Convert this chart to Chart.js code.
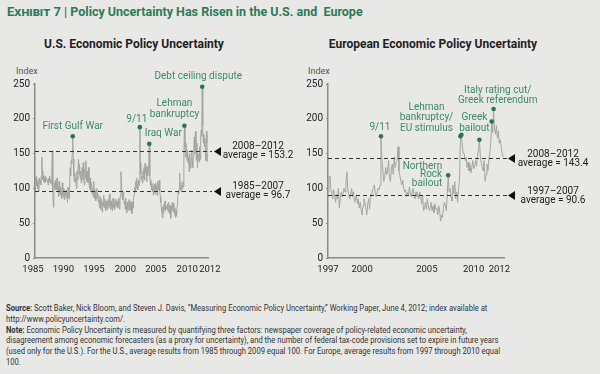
<!DOCTYPE html>
<html>
<head>
<meta charset="utf-8">
<script src="https://cdn.jsdelivr.net/npm/chart.js@4.4.1/dist/chart.umd.min.js"></script>
<style>
  body { margin: 0; width: 600px; height: 374px; overflow: hidden; position: relative;
         background: #e8e8e6; font-family: Roboto, sans-serif; }
  #title { position: absolute; left: 7px; top: 4px; font-size: 12.5px; font-weight: bold;
           color: #2c7a58; white-space: nowrap; }
  #title .sc { font-variant: small-caps; font-size: 13px; }
  .sub { position: absolute; top: 37px; font-size: 12px; font-weight: bold; color: #222;
         white-space: nowrap; transform: translateX(-50%); }
  .idx { position: absolute; top: 66px; font-size: 9px; color: #555; }
  canvas { position: absolute; }
  #foot { position: absolute; left: 6px; top: 303px; font-size: 9px; line-height: 10.8px;
          color: #333; white-space: nowrap; transform-origin: 0 0; }
  #foot b { font-weight: bold; }
</style>
</head>
<body>

<div id="title"><span class="sc">Exhibit 7</span> | Policy Uncertainty Has Risen in the U.S. and &nbsp;Europe</div>

<div class="sub" style="left:134px">U.S. Economic Policy Uncertainty</div>
<div class="sub" style="left:433px">European Economic Policy Uncertainty</div>
<div class="idx" style="left:16px">Index</div>
<div class="idx" style="left:308px">Index</div>

<canvas id="usChart" width="300" height="220" style="left:0;top:60px"></canvas>
<canvas id="euChart" width="300" height="220" style="left:300px;top:60px"></canvas>

<div id="foot">
  <div class="ln"><b>Source:</b> Scott Baker, Nick Bloom, and Steven J. Davis, “Measuring Economic Policy Uncertainty,” Working Paper, June 4, 2012; index available at</div>
  <div class="ln">http://www.policyuncertainty.com/.</div>
  <div class="ln"><b>Note:</b> Economic Policy Uncertainty is measured by quantifying three factors: newspaper coverage of policy-related economic uncertainty,</div>
  <div class="ln" id="longest">disagreement among economic forecasters (as a proxy for uncertainty), and the number of federal tax-code provisions set to expire in future years</div>
  <div class="ln">(used only for the U.S.). For the U.S., average results from 1985 through 2009 equal 100. For Europe, average results from 1997 through 2010 equal</div>
  <div class="ln">100.</div>
</div>

<script>
// ---- data (monthly index values) ----
var usStart = 1985;
var usValues = [
  93, 110, 117, 104, 112, 100, 108, 96, 115, 108, 112, 105,    // 1985
  118, 145, 125, 112, 118, 110, 115, 108, 118, 112, 115, 110,  // 1986
  112, 105, 115, 110, 118, 108, 112, 106, 120, 154, 98, 73,    // 1987
  95, 108, 100, 112, 98, 105, 115, 95, 102, 88, 110, 96,       // 1988
  90, 102, 95, 85, 108, 92, 88, 100, 84, 95, 90, 98,           // 1989
  86, 94, 80, 102, 90, 85, 98, 130, 118, 140, 135, 150,        // 1990
  175, 142, 118, 110, 122, 108, 115, 100, 125, 112, 130, 142,  // 1991
  120, 135, 115, 125, 108, 118, 130, 112, 137, 120, 105, 128,  // 1992
  115, 140, 118, 110, 125, 108, 130, 112, 100, 115, 95, 108,   // 1993
  105, 92, 100, 88, 110, 95, 85, 98, 82, 90, 100, 86,          // 1994
  92, 80, 85, 72, 88, 70, 78, 84, 66, 80, 75, 90,              // 1995
  72, 85, 78, 68, 82, 75, 70, 84, 72, 78, 92, 76,              // 1996
  70, 82, 75, 68, 80, 86, 72, 78, 70, 84, 76, 82,              // 1997
  74, 80, 72, 86, 78, 70, 82, 90, 124, 105, 92, 84,            // 1998
  95, 88, 78, 82, 70, 86, 74, 65, 80, 72, 68, 84,              // 1999
  75, 70, 82, 68, 78, 64, 80, 72, 86, 92, 102, 95,             // 2000
  110, 100, 115, 105, 98, 112, 104, 108, 188, 136, 120, 112,   // 2001
  118, 108, 125, 115, 130, 112, 136, 122, 128, 110, 132, 118,  // 2002
  125, 140, 164, 118, 105, 112, 98, 108, 95, 102, 90, 106,     // 2003
  100, 92, 108, 96, 104, 90, 110, 98, 105, 112, 96, 88,        // 2004
  80, 72, 66, 58, 74, 64, 78, 70, 82, 68, 75, 72,              // 2005
  70, 78, 66, 80, 72, 64, 76, 57, 74, 68, 80, 72,              // 2006
  66, 78, 62, 72, 58, 68, 60, 75, 82, 96, 92, 100,             // 2007
  122, 98, 108, 95, 104, 100, 110, 102, 150, 190, 160, 145,    // 2008
  165, 150, 140, 155, 136, 145, 124, 150, 138, 129, 142, 155,  // 2009
  138, 130, 145, 160, 174, 150, 182, 155, 140, 165, 129, 148,  // 2010
  150, 138, 160, 142, 170, 184, 175, 246, 190, 165, 178, 160,  // 2011
  172, 150, 140, 182, 165, 138                                 // 2012
];
var usTicks = [1985, 1990, 1995, 2000, 2005, 2010, 2012];
var usAverages = [153.2, 96.7];
var usAvgLabels = [['2008–2012', 'average = 153.2'], ['1985–2007', 'average = 96.7']];
var usEvents = [
  { lines: ['First Gulf War'], months: [[1991, 1]] },
  { lines: ['9/11'], months: [[2001, 9]] },
  { lines: ['Iraq War'], months: [[2003, 3]] },
  { lines: ['Lehman', 'bankruptcy'], months: [[2008, 10]] },
  { lines: ['Debt ceiling dispute'], months: [[2011, 8]] }
];

var euStart = 1997;
var euValues = [
  95, 108, 118, 100, 92, 85, 98, 88, 80, 92, 85, 100,          // 1997
  72, 85, 95, 88, 92, 100, 95, 110, 124, 98, 90, 85,           // 1998
  92, 100, 88, 95, 80, 85, 90, 78, 85, 72, 80, 70,             // 1999
  62, 75, 85, 80, 72, 62, 78, 85, 70, 92, 88, 98,              // 2000
  100, 105, 92, 88, 95, 100, 98, 105, 175, 140, 125, 110,      // 2001
  118, 130, 120, 125, 140, 115, 110, 128, 135, 120, 145, 130,  // 2002
  138, 140, 160, 125, 118, 110, 105, 112, 100, 95, 98, 88,     // 2003
  95, 90, 102, 92, 88, 95, 100, 90, 85, 95, 88, 92,            // 2004
  85, 95, 88, 78, 90, 68, 72, 80, 70, 85, 75, 68,              // 2005
  72, 80, 68, 75, 65, 78, 70, 72, 62, 75, 68, 53,              // 2006
  62, 58, 72, 80, 75, 68, 90, 119, 95, 100, 88, 82,            // 2007
  105, 92, 110, 85, 95, 80, 100, 112, 175, 177, 160, 150,      // 2008
  150, 140, 145, 130, 138, 125, 135, 122, 130, 140, 128, 132,  // 2009
  140, 132, 148, 155, 170, 145, 138, 130, 125, 140, 110, 120,  // 2010
  135, 125, 142, 150, 165, 196, 180, 214, 185, 178, 190, 172,  // 2011
  182, 165, 170, 160, 150, 145                                 // 2012
];
var euTicks = [1997, 2000, 2005, 2010, 2012];
var euAverages = [143.4, 90.6];
var euAvgLabels = [['2008–2012', 'average = 143.4'], ['1997–2007', 'average = 90.6']];
var euEvents = [
  { lines: ['9/11'], months: [[2001, 9]] },
  { lines: ['Lehman', 'bankruptcy/', 'EU stimulus'], months: [[2008, 9], [2008, 10]] },
  { lines: ['Greek', 'bailout'], months: [[2010, 5]] },
  { lines: ['Italy rating cut/', 'Greek referendum'], months: [[2011, 6], [2011, 8]] },
  { lines: ['Northern', 'Rock', 'bailout'], months: [[2007, 8]] }
];

// label placement relative to first dot (pixels)
var usPlace = [
  { dx: 0, dy: -10, lh: 11 },
  { dx: -3, dy: -8, lh: 11 },
  { dx: 14, dy: -10, lh: 11 },
  { dx: -10, dy: -22, lh: 11 },
  { dx: -4, dy: -10, lh: 11 }
];
var euPlace = [
  { dx: -1, dy: -9, lh: 11 },
  { dx: -34, dy: -29, lh: 10.5 },
  { dx: -5, dy: -22, lh: 11 },
  { dx: 6, dy: -31, lh: 9.5 },
  { dx: -6, dy: -9, lh: 8.8, align: 'right' }
];
// small horizontal nudges of the year labels, as set in the exhibit
var usTickNudge = { 1985: -2, 1990: -3, 1995: -4, 2000: -4, 2005: -5, 2010: -5, 2012: 5 };
var euTickNudge = { 2005: 8, 2010: -2, 2012: 1 };

var GREEN_TXT = '#3d8a67';
var GREEN_DOT = '#2b7355';

Chart.defaults.font.family = 'Roboto, sans-serif';

function toPoints(start, values) {
  return values.map(function (v, i) { return { x: start + i / 12, y: v }; });
}

var extras = {
  id: 'extras',
  afterDatasetsDraw: function (chart, args, o) {
    var ctx = chart.ctx, x = chart.scales.x, y = chart.scales.y;
    ctx.save();
    // year labels
    ctx.fillStyle = '#222';
    ctx.font = '9.5px Roboto, sans-serif';
    ctx.textAlign = 'center';
    ctx.textBaseline = 'middle';
    o.ticks.forEach(function (v) {
      ctx.fillText(String(v), x.getPixelForValue(v) + (o.nudge[v] || 0), x.top + 12);
    });
    // average lines, arrows, labels
    o.averages.forEach(function (a, k) {
      var py = Math.round(y.getPixelForValue(a)) + 0.5;
      ctx.setLineDash([4, 3]);
      ctx.strokeStyle = '#333';
      ctx.lineWidth = 1;
      ctx.beginPath();
      ctx.moveTo(x.left, py);
      ctx.lineTo(x.right + o.dashExtra, py);
      ctx.stroke();
      ctx.setLineDash([]);
      var tx = x.right + o.triX;
      ctx.fillStyle = '#111';
      ctx.beginPath();
      ctx.moveTo(tx, py);
      ctx.lineTo(tx + 7, py - 4.5);
      ctx.lineTo(tx + 7, py + 4.5);
      ctx.closePath();
      ctx.fill();
      ctx.fillStyle = '#222';
      ctx.font = '10px Roboto, sans-serif';
      ctx.textAlign = 'center';
      ctx.textBaseline = 'middle';
      ctx.fillText(o.avgLabels[k][0], x.right + o.labelX, py + o.labelDy[0]);
      ctx.fillText(o.avgLabels[k][1], x.right + o.labelX, py + o.labelDy[1]);
    });
    // events
    o.events.forEach(function (ev, k) {
      var pts = ev.months.map(function (m) {
        var idx = (m[0] - o.start) * 12 + (m[1] - 1);
        return { px: x.getPixelForValue(o.start + idx / 12), py: y.getPixelForValue(o.values[idx]) };
      });
      ctx.fillStyle = GREEN_DOT;
      pts.forEach(function (p) {
        ctx.beginPath();
        ctx.arc(p.px, p.py, 2.3, 0, Math.PI * 2);
        ctx.fill();
      });
      var pl = o.place[k];
      ctx.fillStyle = GREEN_TXT;
      ctx.font = '10px Roboto, sans-serif';
      ctx.textAlign = pl.align || 'center';
      ctx.textBaseline = 'middle';
      ev.lines.forEach(function (t, j) {
        ctx.fillText(t, pts[0].px + pl.dx, pts[0].py + pl.dy + j * pl.lh);
      });
    });
    ctx.restore();
  }
};

function makeChart(id, start, values, ticks, yWidth, padRight, extraOpts) {
  return new Chart(document.getElementById(id), {
    type: 'line',
    data: {
      datasets: [{
        data: toPoints(start, values),
        borderColor: '#a4a4a4',
        borderWidth: 1,
        pointRadius: 0,
        tension: 0
      }]
    },
    options: {
      responsive: false,
      animation: false,
      devicePixelRatio: 1,
      layout: { padding: { top: 24, right: padRight, left: 0, bottom: 0 } },
      plugins: { legend: { display: false }, tooltip: { enabled: false }, extras: extraOpts },
      scales: {
        x: {
          type: 'linear',
          min: start,
          max: 2012.5,
          afterBuildTicks: function (s) { s.ticks = ticks.map(function (v) { return { value: v }; }); },
          afterFit: function (s) { s.height = 22; },
          ticks: { display: false },
          grid: { display: false },
          border: { color: '#8a8a8a', width: 1.5 }
        },
        y: {
          min: 0,
          max: 250,
          afterFit: function (s) { s.width = yWidth; },
          ticks: { stepSize: 50, padding: 3, color: '#222', font: { size: 10 } },
          grid: { drawOnChartArea: false, tickLength: 2, color: '#8a8a8a' },
          border: { color: '#8a8a8a', width: 1.5 }
        }
      }
    },
    plugins: [extras]
  });
}

makeChart('usChart', usStart, usValues, usTicks, 35, 92, {
  start: usStart, values: usValues, ticks: usTicks, nudge: usTickNudge,
  averages: usAverages, avgLabels: usAvgLabels,
  events: usEvents, place: usPlace, dashExtra: 4, triX: 6, labelX: 50, labelDy: [-5, 4]
});
makeChart('euChart', euStart, euValues, euTicks, 28, 96, {
  start: euStart, values: euValues, ticks: euTicks, nudge: euTickNudge,
  averages: euAverages, avgLabels: euAvgLabels,
  events: euEvents, place: euPlace, dashExtra: 3, triX: 4, labelX: 49, labelDy: [-4.5, 4.5]
});

// squeeze the footnote so its longest line spans the same width as in the exhibit
var foot = document.getElementById('foot');
var w = document.getElementById('longest').scrollWidth;
foot.style.transform = 'scaleX(' + (494 / w) + ')';
</script>
</body>
</html>
